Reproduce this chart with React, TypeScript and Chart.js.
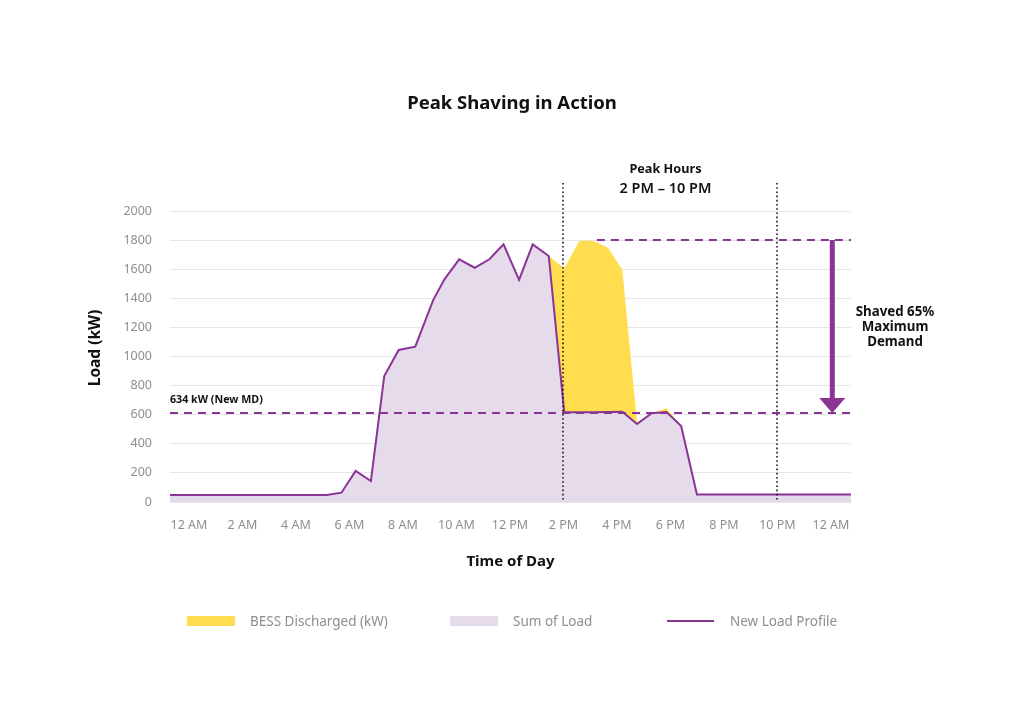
import React, { useEffect, useRef } from "react";
import { Chart, registerables, Plugin } from "chart.js";

Chart.register(...registerables);

// time of day in hours (0 = 12 AM)
const hours = [-0.71, 5.15, 5.7, 6.23, 6.8, 7.3, 7.84, 8.46, 9.13, 9.55, 10.1, 10.68, 11.23, 11.76, 12.34, 12.85, 13.45, 14.03, 14.6, 15.1, 15.67, 16.2, 16.75, 17.3, 17.85, 18.4, 18.99, 24.75];
// load before shaving (kW)
const loadBefore = [48, 48, 64, 213, 144, 866, 1045, 1068, 1388, 1530, 1668, 1610, 1668, 1771, 1526, 1771, 1691, 1606, 1796, 1796, 1748, 1594, 548, 610, 644, 522, 52, 52];
// load after shaving (kW)
const loadAfter = [48, 48, 64, 213, 144, 866, 1045, 1068, 1388, 1530, 1668, 1610, 1668, 1771, 1526, 1771, 1691, 616, 617, 617, 618, 620, 536, 610, 618, 522, 52, 52];

const tickHours = [0, 2, 4, 6, 8, 10, 12, 14, 16, 18, 20, 22, 24];
const tickLabels = ["12 AM", "2 AM", "4 AM", "6 AM", "8 AM", "10 AM", "12 PM", "2 PM", "4 PM", "6 PM", "8 PM", "10 PM", "12 AM"];

const peakStart = 14;
const peakEnd = 22;
const newMD = 612;
const oldMD = 1800;
const oldMDFrom = 15.25;
const arrowAt = 24.05;

const PURPLE = "#8a3595";
const LAVENDER = "#e6dbeb";
const YELLOW = "#ffdd4f";
const GREY = "#8e8e8e";
const FONT = "'Noto Sans', sans-serif";

const overlay: Plugin<"line"> = {
  id: "overlay",
  afterDatasetsDraw(chart) {
    const { ctx, chartArea: a, scales } = chart;
    const x = scales.x;
    const y = scales.y;
    ctx.save();

    // dashed max demand lines
    ctx.strokeStyle = PURPLE;
    ctx.lineWidth = 2;
    ctx.setLineDash([8, 6]);
    const mdY = y.getPixelForValue(newMD);
    ctx.beginPath();
    ctx.moveTo(a.left, mdY);
    ctx.lineTo(a.right, mdY);
    ctx.stroke();
    const pkY = y.getPixelForValue(oldMD);
    ctx.beginPath();
    ctx.moveTo(x.getPixelForValue(oldMDFrom), pkY);
    ctx.lineTo(a.right, pkY);
    ctx.stroke();

    // dotted peak window
    ctx.strokeStyle = "#1a1a1a";
    ctx.lineWidth = 1.6;
    ctx.setLineDash([1.6, 2.6]);
    for (const h of [peakStart, peakEnd]) {
      const px = Math.round(x.getPixelForValue(h));
      ctx.beginPath();
      ctx.moveTo(px, a.top - 28);
      ctx.lineTo(px, a.bottom);
      ctx.stroke();
    }
    ctx.setLineDash([]);

    // arrow
    const ax = x.getPixelForValue(arrowAt);
    ctx.strokeStyle = PURPLE;
    ctx.fillStyle = PURPLE;
    ctx.lineWidth = 5;
    ctx.beginPath();
    ctx.moveTo(ax, pkY);
    ctx.lineTo(ax, mdY - 14);
    ctx.stroke();
    ctx.beginPath();
    ctx.moveTo(ax - 13, mdY - 15);
    ctx.lineTo(ax + 13, mdY - 15);
    ctx.lineTo(ax, mdY);
    ctx.closePath();
    ctx.fill();
    ctx.restore();
  },
  afterDraw(chart) {
    const { ctx, chartArea: a, scales } = chart;
    const x = scales.x;
    const y = scales.y;
    ctx.save();
    ctx.fillStyle = "#111";
    ctx.textBaseline = "middle";
    ctx.textAlign = "center";

    ctx.font = `bold 18.5px ${FONT}`;
    ctx.fillText("Peak Shaving in Action", 512, 104);

    const midPeak = (x.getPixelForValue(peakStart) + x.getPixelForValue(peakEnd)) / 2 - 5;
    ctx.font = `bold 12.7px ${FONT}`;
    ctx.fillText("Peak Hours", midPeak, a.top - 42);
    ctx.font = `600 14.5px ${FONT}`;
    ctx.fillText("2 PM \u2013 10 PM", midPeak, a.top - 22);

    ctx.font = `bold 13.3px ${FONT}`;
    const sx = a.right + 44;
    ctx.fillText("Shaved 65%", sx, 312);
    ctx.fillText("Maximum", sx, 327);
    ctx.fillText("Demand", sx, 342);

    ctx.font = `bold 15px ${FONT}`;
    ctx.fillText("Time of Day", (a.left + a.right) / 2, 562);

    ctx.save();
    ctx.translate(96, 348);
    ctx.rotate(-Math.PI / 2);
    ctx.font = `bold 15.5px ${FONT}`;
    ctx.fillText("Load (kW)", 0, 0);
    ctx.restore();

    ctx.textAlign = "left";
    ctx.font = `bold 10.7px ${FONT}`;
    ctx.fillText("634 kW (New MD)", a.left, y.getPixelForValue(newMD) - 13);

    // legend
    const ly = 621;
    const ds = chart.data.datasets;
    ctx.font = `13.5px ${FONT}`;
    ctx.fillStyle = YELLOW;
    ctx.fillRect(187, ly - 5, 48, 10);
    ctx.fillStyle = GREY;
    ctx.fillText(String(ds[1].label), 250, ly + 1);
    ctx.fillStyle = LAVENDER;
    ctx.fillRect(450, ly - 5, 48, 10);
    ctx.fillStyle = GREY;
    ctx.fillText(String(ds[0].label), 513, ly + 1);
    ctx.strokeStyle = PURPLE;
    ctx.lineWidth = 2;
    ctx.beginPath();
    ctx.moveTo(667, ly);
    ctx.lineTo(714, ly);
    ctx.stroke();
    ctx.fillText(String(ds[2].label), 730, ly + 1);
    ctx.restore();
  },
};

export default function App() {
  const ref = useRef<HTMLCanvasElement | null>(null);
  useEffect(() => {
    if (!ref.current) return;
    const after = hours.map((h, i) => ({ x: h, y: loadAfter[i] }));
    const before = hours.map((h, i) => ({ x: h, y: loadBefore[i] }));
    const chart = new Chart(ref.current, {
      type: "line",
      data: {
        datasets: [
          {
            label: "Sum of Load",
            data: after,
            fill: "origin",
            backgroundColor: LAVENDER,
            borderWidth: 0,
            pointRadius: 0,
            order: 2,
          },
          {
            label: "BESS Discharged (kW)",
            data: before,
            fill: "-1",
            backgroundColor: YELLOW,
            borderWidth: 0,
            pointRadius: 0,
            order: 3,
          },
          {
            label: "New Load Profile",
            data: after,
            fill: false,
            borderColor: PURPLE,
            borderWidth: 2,
            pointRadius: 0,
            order: 1,
          },
        ],
      },
      options: {
        animation: false,
        responsive: true,
        maintainAspectRatio: false,
        layout: { padding: { top: 211, right: 173, bottom: 182, left: 0 } },
        plugins: { legend: { display: false }, tooltip: { enabled: false } },
        scales: {
          x: {
            type: "linear",
            min: hours[0],
            max: hours[hours.length - 1],
            grid: { display: false },
            border: { display: false },
            afterBuildTicks: (s) => {
              s.ticks = tickHours.map((v) => ({ value: v }));
            },
            afterFit: (s) => {
              s.height = 40;
            },
            ticks: {
              color: GREY,
              font: { family: FONT, size: 12.5 },
              padding: 8,
              maxRotation: 0,
              autoSkip: false,
              callback: (v) => tickLabels[tickHours.indexOf(Number(v))] ?? "",
            },
          },
          y: {
            min: 0,
            max: 2000,
            grid: { color: "#e6e6e6", lineWidth: 1, drawTicks: false },
            border: { display: false },
            afterFit: (s) => {
              s.width = 170;
            },
            ticks: {
              stepSize: 200,
              color: GREY,
              font: { family: FONT, size: 12.5 },
              padding: 18,
              callback: (v) => String(v),
            },
          },
        },
      },
      plugins: [overlay],
    });
    return () => chart.destroy();
  }, []);
  return (
    <div style={{ position: "fixed", left: 0, top: 0, width: 1024, height: 724, background: "#fff" }}>
      <canvas ref={ref} />
    </div>
  );
}
